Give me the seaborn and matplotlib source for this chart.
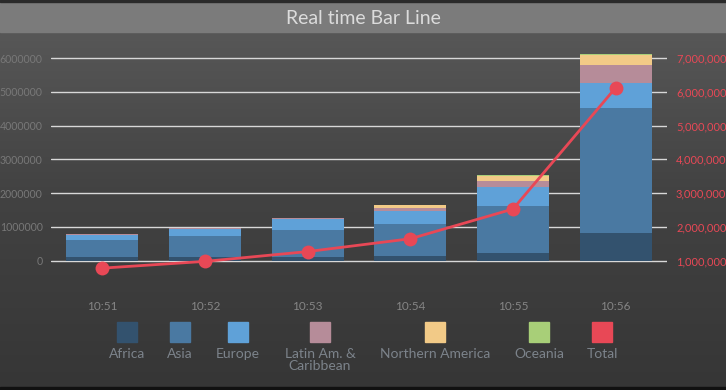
import matplotlib
matplotlib.use("Agg")
import matplotlib.pyplot as plt
import matplotlib.ticker as mticker
from matplotlib.patches import Rectangle
import numpy as np
import pandas as pd
import seaborn as sns

# ---- data ----
times = ["10:51", "10:52", "10:53", "10:54", "10:55", "10:56"]
africa = [110000, 110000, 110000, 140000, 240000, 830000]
asia = [500000, 630000, 800000, 950000, 1380000, 3690000]
europe = [150000, 200000, 320000, 380000, 560000, 730000]
latin = [20000, 30000, 20000, 100000, 190000, 540000]
n_america = [10000, 0, 20000, 80000, 150000, 300000]
oceania = [0, 0, 0, 0, 20000, 30000]
total = [780000, 980000, 1270000, 1650000, 2530000, 6120000]

regions = ["Africa", "Asia", "Europe", "Latin Am. &\nCaribbean", "Northern America", "Oceania"]
colors = ["#33526e", "#4a79a2", "#5fa1d8", "#b68c99", "#f2ca87", "#a8cf78"]
total_color = "#e84856"

df = pd.DataFrame({"time": times, "Africa": africa, "Asia": asia, "Europe": europe,
                   "Latin Am. &\nCaribbean": latin, "Northern America": n_america,
                   "Oceania": oceania})

sns.set_theme(style="dark")
plt.rcParams["font.family"] = ["Lato", "DejaVu Sans"]

W, H = 726, 390
fig = plt.figure(figsize=(W / 100, H / 100), dpi=100)

# background gradient + title band
bg = fig.add_axes([0, 0, 1, 1], zorder=-10)
grad = np.linspace(0, 1, 200)[:, None]
bg.imshow(grad, aspect="auto", cmap=matplotlib.colors.LinearSegmentedColormap.from_list(
    "bg", ["#5b5b5b", "#424242", "#363636"]), extent=[0, 1, 0, 1], origin="upper")
bg.add_patch(Rectangle((0, 1 - 32 / H), 1, 30 / H, color="#7b7b7b"))
bg.add_patch(Rectangle((0, 1 - 2 / H), 1, 2 / H, color="#2a2a2a"))
bg.add_patch(Rectangle((0, 0), 1, 3 / H, color="#111111"))
bg.set_xlim(0, 1)
bg.set_ylim(0, 1)
bg.axis("off")
fig.text(0.5, 1 - 18 / H, "Real time Bar Line", ha="center", va="center",
         color="#dcdcdc", fontsize=14)

# main axes (pixel geometry)
x0, x1 = 51, 667
ytop, ybot = 45, 290
ax = fig.add_axes([x0 / W, 1 - ybot / H, (x1 - x0) / W, (ybot - ytop) / H])
ax.set_facecolor("none")

px_per = 33.78 / 1e6
zero_y = 260.7
ylo = -(ybot - zero_y) / px_per
yhi = (zero_y - ytop) / px_per

bottom = np.zeros(len(times))
for name, col in zip(regions, colors):
    sns.barplot(x=df["time"], y=df[name], bottom=bottom, color=col, width=0.7,
                ax=ax, saturation=1, linewidth=0, zorder=2)
    bottom = bottom + df[name].values

ax.set_ylim(ylo, yhi)
ax.set_yticks(np.arange(0, 6000001, 1000000))
ax.yaxis.set_major_formatter(mticker.FuncFormatter(lambda v, p: f"{int(v)}"))
ax.grid(axis="y", color="#d8d8d8", linewidth=1)
ax.grid(axis="x", visible=False)
ax.set_axisbelow(True)
ax.tick_params(axis="y", colors="#787878", labelsize=7.6, length=0, pad=6)
ax.tick_params(axis="x", colors="#858585", labelsize=8.5, length=0, pad=8)
ax.set_xlabel("")
ax.set_ylabel("")
for s in ax.spines.values():
    s.set_visible(False)

ax2 = ax.twinx()
ax2.set_ylim(ylo + 1e6, yhi + 1e6)
sns.lineplot(x=np.arange(len(times)), y=total, ax=ax2, color=total_color,
             linewidth=2, marker="o", markersize=10, markeredgewidth=0, zorder=5)
ax2.set_yticks(np.arange(1000000, 7000001, 1000000))
ax2.yaxis.set_major_formatter(mticker.FuncFormatter(lambda v, p: f"{int(v):,}"))
ax2.tick_params(axis="y", colors=total_color, labelsize=8, length=0, pad=6.5)
ax2.grid(False)
ax2.set_ylabel("")
for s in ax2.spines.values():
    s.set_visible(False)
ax.set_xlim(-0.5, len(times) - 0.5)
ax2.set_xlim(-0.5, len(times) - 0.5)

# legend: swatch above label
leg_names = ["Africa", "Asia", "Europe", "Latin Am. &\nCaribbean", "Northern America", "Oceania", "Total"]
leg_colors = colors + [total_color]
leg_centers = [127, 180, 238, 320, 435, 539, 602]
for name, col, cx in zip(leg_names, leg_colors, leg_centers):
    fig.add_artist(Rectangle(((cx - 10) / W, 1 - 342 / H), 20 / W, 20 / H,
                             color=col, transform=fig.transFigure))
    fig.text(cx / W, 1 - 348 / H, name, ha="center", va="top", color="#7c838b",
             fontsize=10, linespacing=1.0)

fig.savefig("out.png", dpi=100)
